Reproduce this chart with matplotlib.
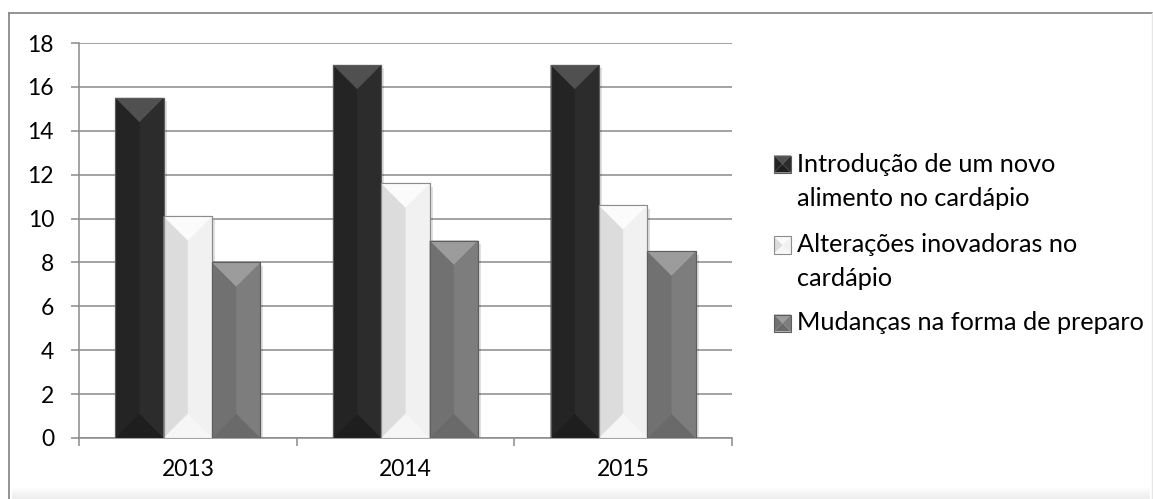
import matplotlib

matplotlib.use("Agg")
import matplotlib.pyplot as plt
import numpy as np
from matplotlib.lines import Line2D
from matplotlib.patches import Polygon, Rectangle

years = ["2013", "2014", "2015"]
series_labels = [
    "Introdução de um novo\nalimento no cardápio",
    "Alterações inovadoras no\ncardápio",
    "Mudanças na forma de preparo",
]
novo_alimento = [15.5, 17.0, 17.0]
alteracoes = [10.1, 11.6, 10.6]
mudancas = [8.0, 9.0, 8.5]
y_ticks = [0, 2, 4, 6, 8, 10, 12, 14, 16, 18]

# face colours for each series: left, right, top, bottom, outline
faces = [
    ("#242424", "#2c2c2c", "#505050", "#1e1e1e", "#5a5a5a"),
    ("#dcdcdc", "#f1f1f1", "#fbfbfb", "#f6f6f6", "#8c8c8c"),
    ("#717171", "#7d7d7d", "#9c9c9c", "#6a6a6a", "#5e5e5e"),
]

W, H = 1153, 499
TICK_SIZE = 16.5
LEGEND_SIZE = 18.2
plt.rcParams["font.family"] = ["Lato", "DejaVu Sans"]
fig = plt.figure(figsize=(W / 100, H / 100), dpi=100)


def fx(px):
    return px / W


def fy(py):
    return 1 - py / H


# outer frame
fig.add_artist(Line2D([fx(9), fx(1152)], [fy(12.5), fy(12.5)], color="#8a8a8a", lw=1.3))
fig.add_artist(Line2D([fx(9), fx(9)], [fy(12.5), 0], color="#8a8a8a", lw=1.3))
fig.add_artist(Line2D([fx(1152), fx(1152)], [fy(12.5), 0], color="#e6e6e6", lw=1.0))

# faint shading along the bottom edge
shade = fig.add_axes([fx(12), 0, fx(1150) - fx(12), 13 / H])
shade.imshow(np.linspace(1.0, 0.93, 20)[:, None], cmap="gray", vmin=0, vmax=1,
             aspect="auto", extent=[0, 1, 0, 1])
shade.axis("off")

ax = fig.add_axes([fx(79), fy(438), fx(732) - fx(79), fy(43) - fy(438)])
ax.set_xlim(-0.5, 2.5)
ax.set_ylim(0, 18)

grid_color = "#8a8a8a"
for spine in ("top", "right"):
    ax.spines[spine].set_visible(False)
ax.spines["left"].set_color(grid_color)
ax.spines["bottom"].set_color(grid_color)
ax.spines["left"].set_linewidth(1.1)
ax.spines["bottom"].set_linewidth(1.1)
ax.set_yticks(y_ticks)
ax.yaxis.grid(True, color=grid_color, linewidth=1.1)
ax.set_axisbelow(True)
ax.set_xticks([-0.5, 0.5, 1.5, 2.5])
ax.set_xticklabels([])
ax.set_xticks([0, 1, 2], minor=True)
ax.set_xticklabels(years, minor=True)
ax.tick_params(axis="x", which="major", length=6, width=1.1, color=grid_color, direction="out")
ax.tick_params(axis="x", which="minor", length=0, pad=15, labelsize=TICK_SIZE)
ax.tick_params(axis="y", length=6, width=1.1, color=grid_color, pad=12, labelsize=TICK_SIZE)

n = 3
width = 1 / (n + 1.5)
x = np.arange(len(years))
all_values = [novo_alimento, alteracoes, mudancas]

# pixels per data unit, used for the 45 degree bevel
pos = ax.get_position()
px_per_x = pos.width * W / 3
px_per_y = pos.height * H / 18

for i, values in enumerate(all_values):
    left_c, right_c, top_c, bot_c, edge_c = faces[i]
    offsets = x + (i - 1) * width
    bars = ax.bar(offsets, values, width, color=right_c, edgecolor=edge_c,
                  linewidth=0.8, zorder=3)
    for rect in bars:
        x0 = rect.get_x()
        x1 = x0 + rect.get_width()
        h = rect.get_height()
        cx = (x0 + x1) / 2
        d = (rect.get_width() / 2) * px_per_x / px_per_y
        # soft drop shadow
        ax.add_patch(Rectangle((x0 + 3 / px_per_x, -0.15), rect.get_width(), h,
                               color="black", alpha=0.12, lw=0, zorder=2.5))
        ax.add_patch(Polygon([(x0, 0), (x0, h), (cx, h - d), (cx, d)],
                             closed=True, color=left_c, lw=0, zorder=3.1))
        ax.add_patch(Polygon([(x0, h), (x1, h), (cx, h - d)],
                             closed=True, color=top_c, lw=0, zorder=3.2))
        ax.add_patch(Polygon([(x0, 0), (x1, 0), (cx, d)],
                             closed=True, color=bot_c, lw=0, zorder=3.2))
        ax.add_patch(Rectangle((x0, 0), rect.get_width(), h, fill=False,
                               edgecolor=edge_c, lw=0.8, zorder=3.3))

# legend with bevelled keys, aligned on the first line of each entry
legend_rows = [164, 245, 323]
line_gap = 34
box = 17
for i, label in enumerate(series_labels):
    left_c, right_c, top_c, bot_c, edge_c = faces[i]
    yc = legend_rows[i]
    x0, x1 = 774, 774 + box
    y_top, y_bot = yc - box / 2, yc + box / 2
    corners = {
        "tl": (fx(x0), fy(y_top)), "tr": (fx(x1), fy(y_top)),
        "bl": (fx(x0), fy(y_bot)), "br": (fx(x1), fy(y_bot)),
    }
    mid = (fx((x0 + x1) / 2), fy(yc))
    for pts, col in (
        ((corners["tl"], corners["tr"], mid), top_c),
        ((corners["bl"], corners["br"], mid), bot_c),
        ((corners["tl"], corners["bl"], mid), left_c),
        ((corners["tr"], corners["br"], mid), right_c),
    ):
        fig.add_artist(Polygon(pts, closed=True, color=col, lw=0,
                               transform=fig.transFigure))
    fig.add_artist(Rectangle((fx(x0), fy(y_bot)), fx(x1) - fx(x0), fy(y_top) - fy(y_bot),
                             fill=False, edgecolor=edge_c, lw=0.8,
                             transform=fig.transFigure))
    for k, line in enumerate(label.split("\n")):
        fig.text(fx(797), fy(yc + k * line_gap), line, ha="left", va="center",
                 fontsize=LEGEND_SIZE, color="black", transform=fig.transFigure)

fig.savefig("out.png", dpi=100, facecolor="white")
